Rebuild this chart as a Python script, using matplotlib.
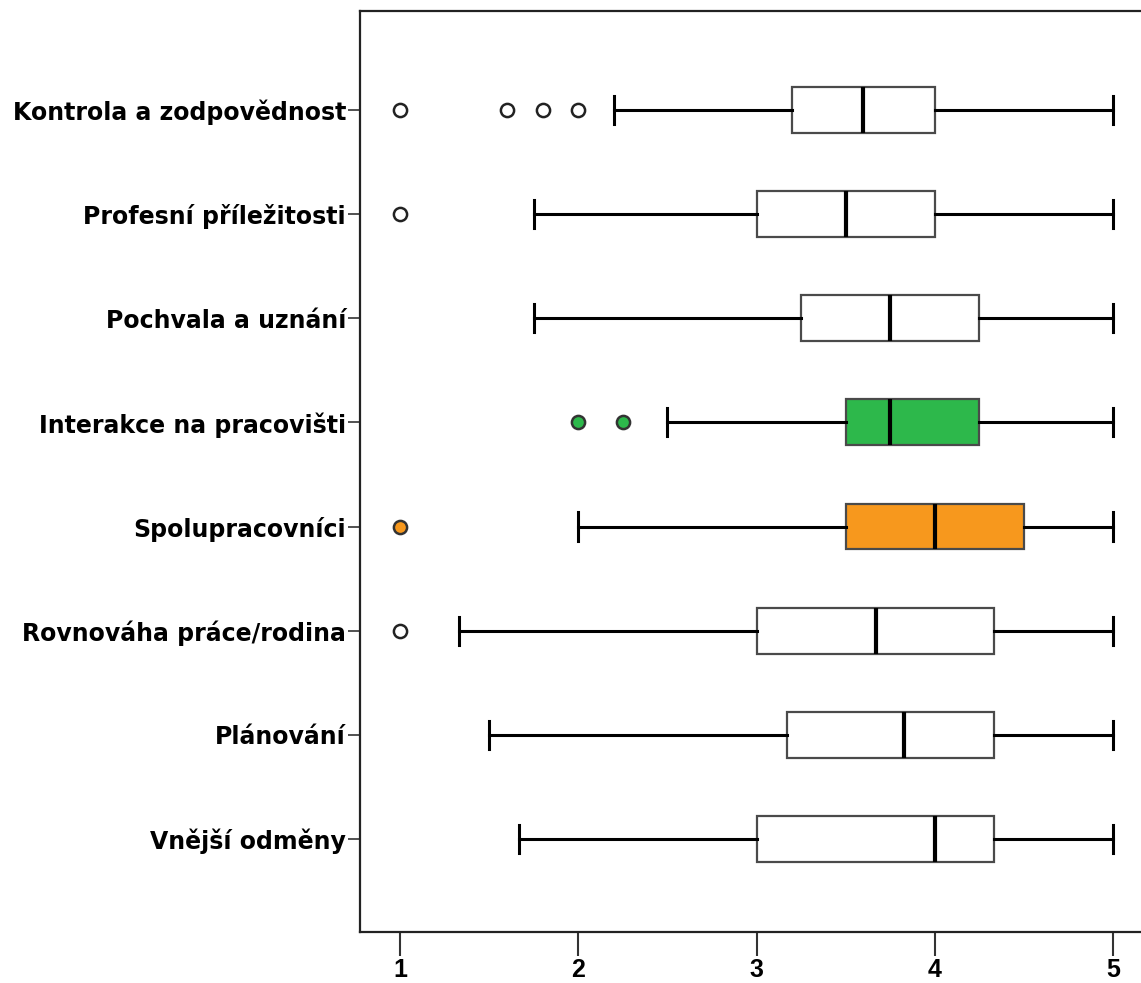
import matplotlib
matplotlib.use("Agg")
import matplotlib.pyplot as plt

categories = ["Vnější odměny", "Plánování", "Rovnováha práce/rodina", "Spolupracovníci",
              "Interakce na pracovišti", "Pochvala a uznání", "Profesní příležitosti",
              "Kontrola a zodpovědnost"]
whislo = [1.67, 1.5, 1.33, 2.0, 2.5, 1.75, 1.75, 2.2]
q1 = [3.0, 3.17, 3.0, 3.5, 3.5, 3.25, 3.0, 3.2]
med = [4.0, 3.83, 3.67, 4.0, 3.75, 3.75, 3.5, 3.6]
q3 = [4.33, 4.33, 4.33, 4.5, 4.25, 4.25, 4.0, 4.0]
whishi = [5.0, 5.0, 5.0, 5.0, 5.0, 5.0, 5.0, 5.0]
fliers = [[], [], [1.0], [1.0], [2.0, 2.25], [], [1.0], [1.0, 1.6, 1.8, 2.0]]
fills = ["white", "white", "white", "#F7981D", "#2DB84B", "white", "white", "white"]
xticks = [1, 2, 3, 4, 5]

plt.rcParams['font.family'] = ['DejaVu Sans']

fig = plt.figure(figsize=(11.41, 9.83), dpi=100)
ax = fig.add_axes([360/1141, 1-932/983, 1-360/1141, (932-11)/983])

stats = []
for i in range(len(categories)):
    stats.append(dict(med=med[i], q1=q1[i], q3=q3[i], whislo=whislo[i],
                      whishi=whishi[i], fliers=fliers[i], label=categories[i]))

positions = list(range(1, len(categories) + 1))
bp = ax.bxp(stats, positions=positions, vert=False, widths=0.44, patch_artist=True,
            showfliers=True, manage_ticks=False,
            boxprops=dict(edgecolor="#4a4a4a", linewidth=1.6),
            whiskerprops=dict(color="black", linewidth=2.2),
            capprops=dict(color="black", linewidth=2.2),
            medianprops=dict(color="black", linewidth=3),
            flierprops=dict(marker="o", markersize=9.5, markerfacecolor="white",
                            markeredgecolor="#222222", markeredgewidth=1.8))
for i, patch in enumerate(bp["boxes"]):
    patch.set_facecolor(fills[i])
for i, fl in enumerate(bp["fliers"]):
    if fills[i] != "white":
        fl.set_markerfacecolor(fills[i])
        fl.set_markeredgecolor("#333333")
for i in range(len(categories)):
    for c in bp["caps"][2*i:2*i+2]:
        y = positions[i]
        c.set_ydata([y - 0.135, y + 0.135])

ax.set_xlim(0.7756, 5.157)
ax.set_ylim(0.107, 8.95)
ax.set_yticks(positions)
ax.set_yticklabels(categories, fontsize=17, fontweight="bold",
                   family=['DejaVu Sans'])
ax.set_xticks(xticks)
ax.set_xticklabels([str(t) for t in xticks], fontsize=18, fontweight="bold",
                   family=['Liberation Sans Narrow', 'Liberation Sans', 'DejaVu Sans'])
ax.tick_params(axis="y", length=9, width=1.2, pad=1, color="#333333")
ax.tick_params(axis="x", length=17, width=1.5, pad=2, color="#333333")
ax.spines["right"].set_visible(False)
for s in ["left", "top", "bottom"]:
    ax.spines[s].set_linewidth(1.6)
    ax.spines[s].set_color("#222222")

fig.savefig("out.png", dpi=100)
